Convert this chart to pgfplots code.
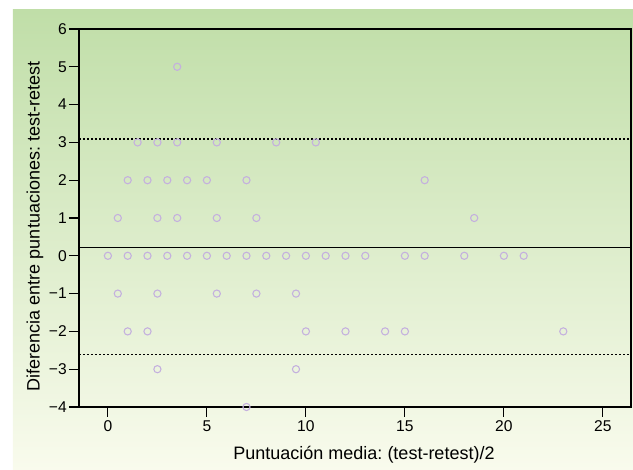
\documentclass[border=0pt]{standalone}
\usepackage{pgfplots}
\pgfplotsset{compat=1.18}
\usepackage{fontspec}
\setmainfont{Liberation Sans}
\frenchspacing
\definecolor{bgtop}{RGB}{192,222,168}
\definecolor{bgbot}{RGB}{249,251,237}
\definecolor{pt}{RGB}{196,176,222}
\begin{document}
\begin{tikzpicture}
\path[use as bounding box] (-59.25pt,-47.25pt) rectangle (415.5pt,305.25pt);
\shade[top color=bgtop, bottom color=bgbot] (-49.5pt,-47.25pt) rectangle (415.5pt,297.75pt);
\begin{axis}[
  scale only axis,
  width=414pt, height=283.5pt,
  xmin=-1.46, xmax=26.42, ymin=-4, ymax=6,
  axis line style={black, line width=0.8pt},
  xtick={0,5,...,25}, ytick={-4,-3,...,6},
  yticklabels={−4,−3,−2,−1,0,1,2,3,4,5,6},
  tick align=outside, major tick length=7.5pt,
  tick style={black, line width=0.8pt},
  xtick pos=bottom, ytick pos=left,
  tick label style={font=\fontsize{11.7}{14}\selectfont},
  yticklabel style={inner sep=1.5pt},
  xticklabel style={inner sep=2.5pt},
  /pgf/number format/assume math mode=true,
  clip=false,
]
\addplot[only marks, mark=o, mark size=2.7pt, mark options={draw=pt, line width=0.8pt}] coordinates {
(3.5,5)
(1.5,3) (2.5,3) (3.5,3) (5.5,3) (8.5,3) (10.5,3)
(1,2) (2,2) (3,2) (4,2) (5,2) (7,2) (16,2)
(0.5,1) (2.5,1) (3.5,1) (5.5,1) (7.5,1) (18.5,1)
(0,0) (1,0) (2,0) (3,0) (4,0) (5,0) (6,0) (7,0) (8,0) (9,0) (10,0) (11,0) (12,0) (13,0) (15,0) (16,0) (18,0) (20,0) (21,0)
(0.5,-1) (2.5,-1) (5.5,-1) (7.5,-1) (9.5,-1)
(1,-2) (2,-2) (10,-2) (12,-2) (14,-2) (15,-2) (23,-2)
(2.5,-3) (9.5,-3)
(7,-4)
};
\addplot[black, line width=0.8pt, forget plot] coordinates {(-1.46,0.23) (26.42,0.23)};
\addplot[black, line width=0.8pt, dash pattern=on 1.5pt off 1.5pt, forget plot] coordinates {(-1.46,3.09) (26.42,3.09)};
\addplot[black, line width=0.8pt, dash pattern=on 1.5pt off 1.5pt, forget plot] coordinates {(-1.46,-2.6) (26.42,-2.6)};
\end{axis}
\node[font=\fontsize{13.5}{16}\selectfont] at (213.75pt,-36pt) {Puntuación media: (test-retest)/2};
\node[font=\fontsize{13.5}{16}\selectfont, rotate=90] at (-33pt,135.4pt) {Diferencia entre puntuaciones: test-retest};
\end{tikzpicture}
\end{document}
